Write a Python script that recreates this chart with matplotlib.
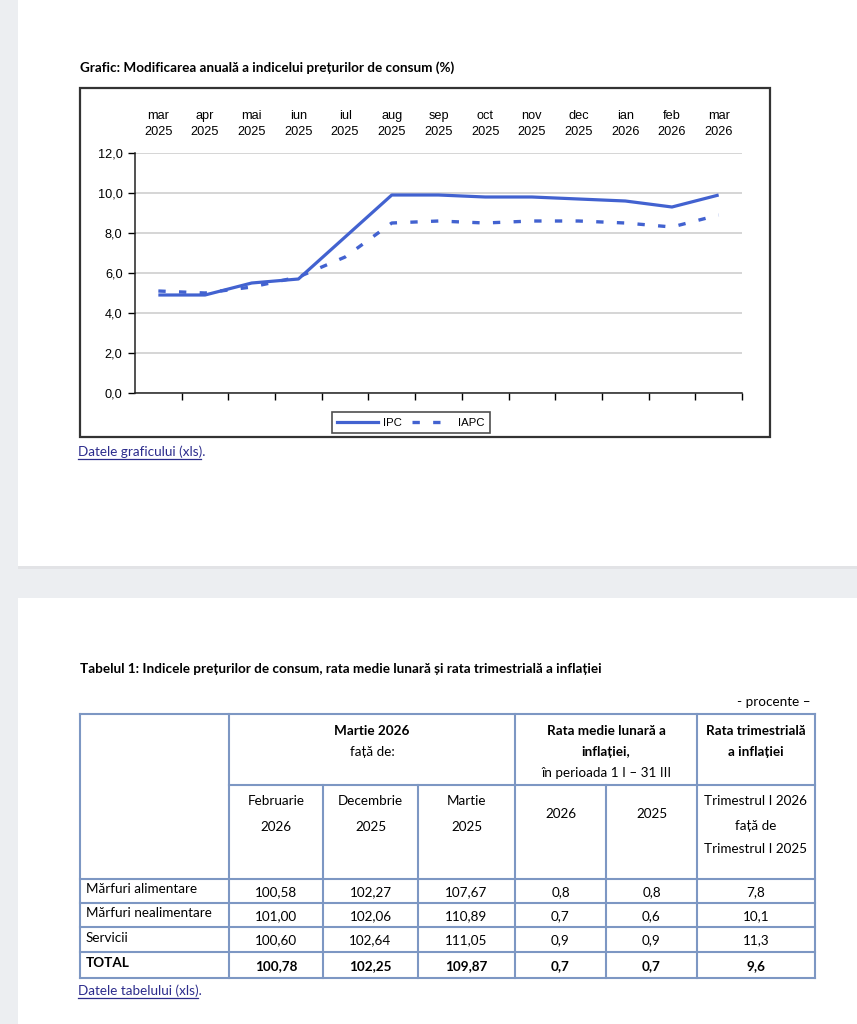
import matplotlib
matplotlib.use("Agg")
import matplotlib.pyplot as plt
from matplotlib.patches import Rectangle
from matplotlib.lines import Line2D

# date grafic - modificarea anuala (%)
months = ["mar\n2025", "apr\n2025", "mai\n2025", "iun\n2025", "iul\n2025", "aug\n2025",
          "sep\n2025", "oct\n2025", "nov\n2025", "dec\n2025", "ian\n2026", "feb\n2026", "mar\n2026"]
ipc = [4.9, 4.9, 5.5, 5.7, 7.8, 9.9, 9.9, 9.8, 9.8, 9.7, 9.6, 9.3, 9.9]
iapc = [5.1, 5.0, 5.3, 5.8, 6.8, 8.5, 8.6, 8.5, 8.6, 8.6, 8.5, 8.3, 8.9]

# date tabel
row_labels = ["Mărfuri alimentare", "Mărfuri nealimentare", "Servicii", "TOTAL"]
vs_feb26 = [100.58, 101.00, 100.60, 100.78]
vs_dec25 = [102.27, 102.06, 102.64, 102.25]
vs_mar25 = [107.67, 110.89, 111.05, 109.87]
rate_2026 = [0.8, 0.7, 0.9, 0.7]
rate_2025 = [0.8, 0.6, 0.9, 0.7]
quarterly = [7.8, 10.1, 11.3, 9.6]

W, H = 857, 1024
BLUE = "#4262d0"
BORDER = "#7d97c3"
LINK = "#2c2c8c"
TFONT = ["Lato", "DejaVu Sans"]
CFONT = ["Liberation Sans", "DejaVu Sans"]
TS = 9.7   # marime text tabel / titluri
CS = 9.2   # marime text grafic

fig = plt.figure(figsize=(W / 100, H / 100), dpi=100, facecolor="#eceef1")

# fundal in coordonate pixel
bg = fig.add_axes([0, 0, 1, 1])
bg.set_xlim(0, W)
bg.set_ylim(H, 0)
bg.axis("off")
bg.add_patch(Rectangle((18, -5), W, 571, facecolor="white", edgecolor="none"))
bg.add_patch(Rectangle((18, 566), W, 3, facecolor="#e2e3e6", edgecolor="none"))
bg.add_patch(Rectangle((18, 598), W, 430, facecolor="white", edgecolor="none"))

bg.text(80, 68, "Grafic: Modificarea anuală a indicelui prețurilor de consum (%)",
        family=TFONT, fontweight="bold", fontsize=TS, va="center", ha="left")
bg.add_patch(Rectangle((80, 88), 690, 349, facecolor="white", edgecolor="#333333", lw=1.6))


def link(x, y, s):
    t = bg.text(x, y, s, family=TFONT, fontsize=TS, color=LINK, va="center", ha="left")
    fig.canvas.draw()
    bb = t.get_window_extent().transformed(bg.transData.inverted())
    bg.plot([bb.x0, bb.x1 - 4], [y + 6.5, y + 6.5], color=LINK, lw=0.9)


link(78, 452, "Datele graficului (xls).")

# grafic
ax = fig.add_axes([135 / W, 1 - 393 / H, (742 - 135) / W, (393 - 153) / H])
x = range(len(months))
ax.plot(x, ipc, color=BLUE, lw=2.3, solid_capstyle="butt")
ax.plot(x, iapc, color=BLUE, lw=2.4, linestyle=(0, (2.2, 4.0)), dash_capstyle="butt")
ax.set_xlim(-0.5, len(months) - 0.5)
ax.set_ylim(0, 12)
ax.set_yticks([0, 2, 4, 6, 8, 10, 12])
ax.set_yticklabels([f"{v:.1f}".replace(".", ",") for v in [0, 2, 4, 6, 8, 10, 12]],
                   family=CFONT, fontsize=CS)
ax.set_xticks(list(x))
ax.set_xticklabels(months, family=CFONT, fontsize=CS, linespacing=1.45)
ax.set_xticks([i - 0.5 for i in range(1, len(months) + 1)], minor=True)
ax.tick_params(axis="x", which="major", top=False, bottom=False, labeltop=True,
               labelbottom=False, pad=7)
ax.tick_params(axis="x", which="minor", bottom=True, direction="out", length=5, width=1)
ax.tick_params(axis="y", direction="out", length=5, width=1, pad=4)
ax.grid(axis="y", color="#d2d2d2", lw=1.3)
ax.set_axisbelow(True)
for s in ["top", "right"]:
    ax.spines[s].set_visible(False)
for s in ["left", "bottom"]:
    ax.spines[s].set_color("#222222")
    ax.spines[s].set_linewidth(1.1)

handles = [Line2D([], [], color=BLUE, lw=2.3),
           Line2D([], [], color=BLUE, lw=2.4, linestyle=(0, (2.2, 4.0)))]
leg = fig.legend(handles, ["IPC", "IAPC"], loc="center",
                 bbox_to_anchor=(411 / W, 1 - 422.5 / H), ncol=2, frameon=True,
                 fancybox=False, edgecolor="#222222", handlelength=3.6,
                 handletextpad=0.45, columnspacing=0.9, borderpad=0.45,
                 prop={"family": CFONT, "size": 8.2})
leg.get_frame().set_linewidth(1.2)

# tabel
bg.text(80, 669, "Tabelul 1: Indicele prețurilor de consum, rata medie lunară și rata trimestrială a inflației",
        family=TFONT, fontweight="bold", fontsize=TS, va="center", ha="left")
bg.text(811, 702, "- procente –", family=TFONT, fontsize=TS, va="center", ha="right")

cols = [80, 229, 323, 418, 515, 606, 697, 815]
rows = [714, 785, 879, 903, 927, 952, 978]
top, bot = rows[0], rows[-1]


def hline(y, x0, x1):
    bg.plot([x0, x1], [y, y], color=BORDER, lw=1.5, solid_capstyle="projecting")


def vline(xx, y0, y1):
    bg.plot([xx, xx], [y0, y1], color=BORDER, lw=1.5, solid_capstyle="projecting")


hline(top, cols[0], cols[-1])
hline(bot, cols[0], cols[-1])
hline(rows[1], cols[1], cols[-1])
for y in rows[2:-1]:
    hline(y, cols[0], cols[-1])
for i, xx in enumerate(cols):
    if i in (2, 3, 5):
        vline(xx, rows[1], bot)
    else:
        vline(xx, top, bot)


def cell(xx, y, s, bold=False):
    bg.text(xx, y, s, family=TFONT, fontsize=TS, fontweight="bold" if bold else "normal",
            ha="center", va="center")


cell(372, 731, "Martie 2026", True)
cell(372, 752, "față de:")
cell(606, 731, "Rata medie lunară a", True)
cell(606, 752, "inflației,", True)
cell(606, 773, "în perioada 1 I – 31 III")
cell(756, 731, "Rata trimestrială", True)
cell(756, 752, "a inflației", True)

cell(276, 801, "Februarie")
cell(276, 827, "2026")
cell(370.5, 801, "Decembrie")
cell(370.5, 827, "2025")
cell(466.5, 801, "Martie")
cell(466.5, 827, "2025")
cell(560.5, 814, "2026")
cell(651.5, 814, "2025")
cell(756, 801, "Trimestrul I 2026")
cell(756, 826, "față de")
cell(756, 849, "Trimestrul I 2025")


def fmt(v, d):
    return f"{v:.{d}f}".replace(".", ",")


centers = [(cols[i] + cols[i + 1]) / 2 for i in range(len(cols) - 1)]
for r, lab in enumerate(row_labels):
    yc = (rows[r + 2] + rows[r + 3]) / 2
    bold = lab == "TOTAL"
    bg.text(86, yc - 2, lab, family=TFONT, fontsize=TS,
            fontweight="bold" if bold else "normal", ha="left", va="center")
    vals = [fmt(vs_feb26[r], 2), fmt(vs_dec25[r], 2), fmt(vs_mar25[r], 2),
            fmt(rate_2026[r], 1), fmt(rate_2025[r], 1), fmt(quarterly[r], 1)]
    for c, v in enumerate(vals):
        cell(centers[c + 1], yc + 1, v, bold)

link(78, 991, "Datele tabelului (xls).")

fig.savefig("out.png", dpi=100, facecolor=fig.get_facecolor())
